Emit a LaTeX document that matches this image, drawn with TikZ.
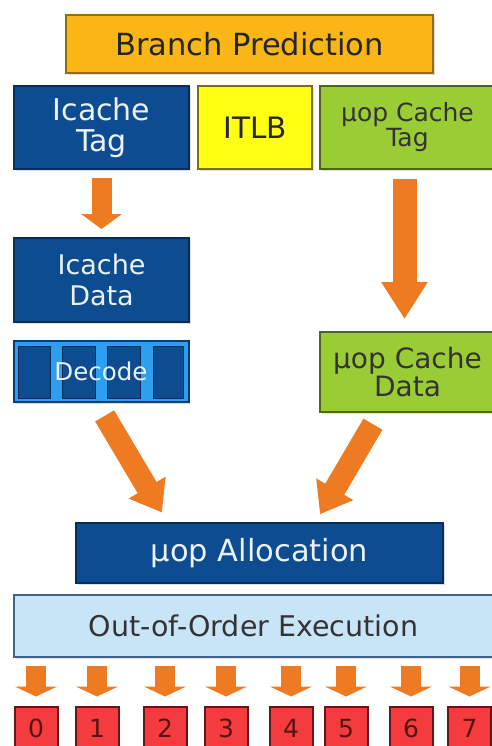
\documentclass[tikz,border=0pt]{standalone}
\usepackage{fontspec}
\setmainfont{DejaVu Sans}
\usepackage{xcolor}
\usepackage{tikz}
\usetikzlibrary{arrows.meta, shadows}
\definecolor{C1}{HTML}{F8B617}
\definecolor{C2}{HTML}{0E4C92}
\definecolor{C3}{HTML}{FFFF14}
\definecolor{C4}{HTML}{9ACD35}
\definecolor{C5}{HTML}{C8E5F8}
\definecolor{C6}{HTML}{F43B3D}
\definecolor{C7}{HTML}{EE7A22}
\definecolor{C8}{HTML}{2E9EEE}

\begin{document}
\begin{tikzpicture}[
	x=1pt, y=-1pt,
	box/.style = {draw, rectangle, align=center, line width=2pt, inner sep=0pt,
		drop shadow={opacity=0.25, shadow xshift=1.5pt, shadow yshift=-2pt}},
	gbox/.style = {box, fill=C1, draw=C1!60!black, text=black!85},
	dbox/.style = {box, fill=C2, draw=C2!60!black, text=white!92!C2},
	ybox/.style = {box, fill=C3, draw=C3!45!black, text=black!85},
	lbox/.style = {box, fill=C4, draw=C4!50!black, text=black!80},
	obox/.style = {box, fill=C5, draw=C2!55!gray, text=black!80},
	rbox/.style = {box, fill=C6, draw=C6!40!black, text=C6!35!black, minimum width=43pt, minimum height=43pt, font=\fontsize{25}{27}\selectfont},
	decbox/.style = {box, fill=C8, draw=C2!80!black, text=white!92!C2,
		path picture={
			\foreach \a/\b in {5/37, 49/82, 94/127, 140/170}
				\filldraw[fill=C2, draw=C2!60!black, line width=0.8pt]
					([xshift=\a pt, yshift=-5pt]path picture bounding box.north west) rectangle
					([xshift=\b pt, yshift=4pt]path picture bounding box.south west);
		}},
	fatarrow/.style n args = {3}{draw=C7, line width=#1, -{Triangle[width=#2, length=#3]}}
]
  \useasboundingbox (0,0) rectangle (491,746);

  % Define vertices
  \node[gbox, minimum width=367pt, minimum height=58pt, font=\fontsize{30.5}{32}\selectfont] at (249.5, 44) (bp) {Branch Prediction};
  \node[dbox, minimum width=175pt, minimum height=83pt, font=\fontsize{30}{31}\selectfont] at (101.5, 127.5) (itag) {Icache\\Tag};
  \node[ybox, minimum width=114pt, minimum height=83pt, font=\fontsize{29.5}{31}\selectfont] at (255, 127.5) (itlb) {ITLB};
  \node[lbox, minimum width=175pt, minimum height=83pt, font=\fontsize{25}{25}\selectfont] at (407.5, 127.5) (utag) {µop Cache\\Tag};
  \node[dbox, minimum width=175pt, minimum height=84pt, font=\fontsize{27}{31}\selectfont] at (101.5, 280) (idata) {Icache\\Data};
  \node[decbox, minimum width=175pt, minimum height=61pt, font=\fontsize{24.5}{26}\selectfont] at (101, 371.5) (decode) {Decode};
  \node[lbox, minimum width=175pt, minimum height=80pt, font=\fontsize{28}{28}\selectfont] at (407.5, 372) (udata) {µop Cache\\Data};
  \node[dbox, minimum width=367pt, minimum height=60pt, font=\fontsize{30.5}{32}\selectfont] at (259.5, 553) (alloc) {µop Allocation};
  \node[obox, minimum width=479pt, minimum height=62pt, font=\fontsize{28.5}{29}\selectfont] at (253.5, 626) (ooo) {Out-of-Order Execution};
  \foreach \i/\x in {0/36, 1/97, 2/165, 3/226, 4/291, 5/346, 6/411, 7/469.5}
    \node[rbox] at (\x, 728.5) (p\i) {\i};

  % Edges
  \draw[fatarrow={20pt}{40pt}{15pt}, shorten <=8pt, shorten >=8pt] (itag.south) -- (idata.north);
  \draw[fatarrow={24pt}{44pt}{37pt}, shorten <=9pt, shorten >=12pt] ([xshift=-3pt]utag.south) -- ([xshift=-3pt]udata.north);
  \draw[fatarrow={22pt}{41pt}{29pt}, shorten <=15pt, shorten >=11pt] ([xshift=-4pt]decode.south) -- ([xshift=-92pt]alloc.north);
  \draw[fatarrow={22pt}{41pt}{29pt}, shorten <=13pt, shorten >=9pt] ([xshift=-28pt]udata.south) -- ([xshift=56pt]alloc.north);
  \foreach \i in {0,...,7}
    \draw[fatarrow={20pt}{42pt}{10pt}, shorten <=8pt, shorten >=9.5pt] (ooo.south -| p\i.north) -- (p\i.north);
\end{tikzpicture}
\end{document}
